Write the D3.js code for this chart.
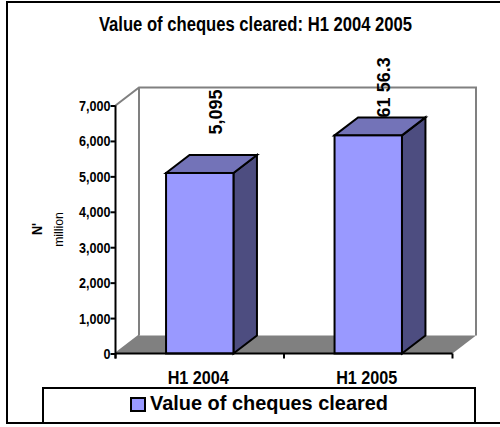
<!DOCTYPE html>
<html><head><meta charset="utf-8">
<script src="https://cdn.jsdelivr.net/npm/d3@7"></script>
<style>html,body{margin:0;padding:0;background:#fff}svg{display:block}
text{font-family:"Liberation Sans",Arial,sans-serif;fill:#000;font-weight:bold}</style>
</head><body><svg id="c" width="500" height="427"></svg>
<script>
const categories=["H1 2004","H1 2005"];
const seriesValues=[5095,6156.3];
const dataLabels=["5,095","61 56.3"];
const yTicks=[0,1000,2000,3000,4000,5000,6000,7000];
const seriesName="Value of cheques cleared";
const titleText="Value of cheques cleared: H1 2004 2005";

const svg=d3.select("#c");
const dx=23.5,dy=-18;
const x=d3.scaleBand().domain(categories).range([115.5,452.5]).paddingInner(0.6).paddingOuter(0.3);
const xTick=d3.scaleBand().domain(categories).range([115.5,452.5]);
const y=d3.scaleLinear().domain([0,7000]).range([353.5,105.5]);
const y0=y(0),yT=y(7000),xL=115.5,xR=452.5;
const sq=(sel,px,py,rot,k)=>sel.attr("transform",`translate(${px},${py}) rotate(${rot||0}) scale(${k},1)`);

// frame
svg.append("path").attr("d","M7,423V2H500M6,423H500").attr("fill","none").attr("stroke","#000").attr("stroke-width",2);

// floor and walls
svg.append("path").attr("d",`M${xL},${y0}L${xL+dx},${y0+dy}H${xR+dx}L${xR},${y0}Z`).attr("fill","#808080");
svg.append("path").attr("d",`M${xL},${yT}L${xL+dx},${yT+dy}H${xR+dx}V${y0+dy}M${xL+dx},${yT+dy}V${y0+dy}M${xL},${y0}L${xL+dx},${y0+dy}`)
  .attr("fill","none").attr("stroke","#808080").attr("stroke-width",2);

// bars
const w=x.bandwidth();
const bars=svg.selectAll("g.bar").data(categories).join("g").attr("class","bar");
const st=g=>g.attr("stroke","#000").attr("stroke-width",2).attr("stroke-linejoin","miter");
bars.append("path").attr("fill","#4d4d80").call(st)
  .attr("d",(d,i)=>{const a=x(d)+w,t=y(seriesValues[i]);return `M${a},${t}L${a+dx},${t+dy}V${y0+dy}L${a},${y0}Z`;});
bars.append("path").attr("fill","#7373b8").call(st)
  .attr("d",(d,i)=>{const a=x(d),t=y(seriesValues[i]);return `M${a},${t}L${a+dx},${t+dy}H${a+w+dx}L${a+w},${t}Z`;});
bars.append("rect").attr("fill","#9999ff").call(st)
  .attr("x",d=>x(d)).attr("width",w).attr("y",(d,i)=>y(seriesValues[i])).attr("height",(d,i)=>y0-y(seriesValues[i]));

// axes
const yAxis=d3.axisLeft(y).tickValues(yTicks).tickFormat(d3.format(",")).tickSize(5).tickPadding(1);
const gy=svg.append("g").attr("transform",`translate(${xL},0)`).call(yAxis);
gy.select(".domain").attr("stroke","#000").attr("stroke-width",2).attr("d",`M0,${yT}V${y0+5}`);
gy.selectAll("line").attr("stroke","#000").attr("stroke-width",2);
gy.selectAll(".tick text").attr("font-family",null).attr("font-weight",null).attr("font-size",15).attr("x",null).attr("dy",null)
  .attr("text-anchor","end").attr("transform","translate(-5,5) scale(0.84,1)");

svg.append("line").attr("x1",xL).attr("x2",xR).attr("y1",y0).attr("y2",y0).attr("stroke","#000").attr("stroke-width",2);
svg.selectAll("line.xt").data([xL,xTick(categories[1]),xR]).join("line").attr("class","xt")
  .attr("x1",d=>d).attr("x2",d=>d).attr("y1",y0).attr("y2",y0+5).attr("stroke","#000").attr("stroke-width",2);
svg.selectAll("text.xl").data(categories).join("text").attr("class","xl")
  .attr("text-anchor","middle").attr("font-size",18)
  .each(function(d){sq(d3.select(this),xTick(d)+xTick.bandwidth()/2-1.5,384,0,0.9);}).text(d=>d);

// data labels
svg.selectAll("text.dl").data(categories).join("text").attr("class","dl")
  .attr("font-size",18).attr("text-anchor","start")
  .attr("transform",(d,i)=>`translate(${x(d)+w/2+[22.5,22][i]},${y(seriesValues[i])+dy-[20.5,0][i]}) rotate(-90)`)
  .text((d,i)=>dataLabels[i]);

// title + y label
svg.append("text").attr("text-anchor","middle").attr("font-size",19.5).call(sq,255.5,30.5,0,0.853).text(titleText);
svg.append("text").attr("text-anchor","middle").attr("font-size",14).call(sq,42,229,-90,0.9).text("N'");
svg.append("text").attr("text-anchor","middle").attr("font-size",12.5).style("font-weight","normal").call(sq,63,229.5,-90,0.98).text("million");

// legend
svg.append("rect").attr("x",43).attr("y",388).attr("width",432).attr("height",35).attr("fill","#fff").attr("stroke","#000").attr("stroke-width",2);
svg.append("rect").attr("x",131).attr("y",398).attr("width",14).attr("height",13).attr("fill","#9999ff").attr("stroke","#000").attr("stroke-width",2);
svg.append("text").attr("x",150).attr("y",410).attr("font-size",19.5).attr("textLength",238).attr("lengthAdjust","spacingAndGlyphs").text(seriesName);
</script></body></html>
